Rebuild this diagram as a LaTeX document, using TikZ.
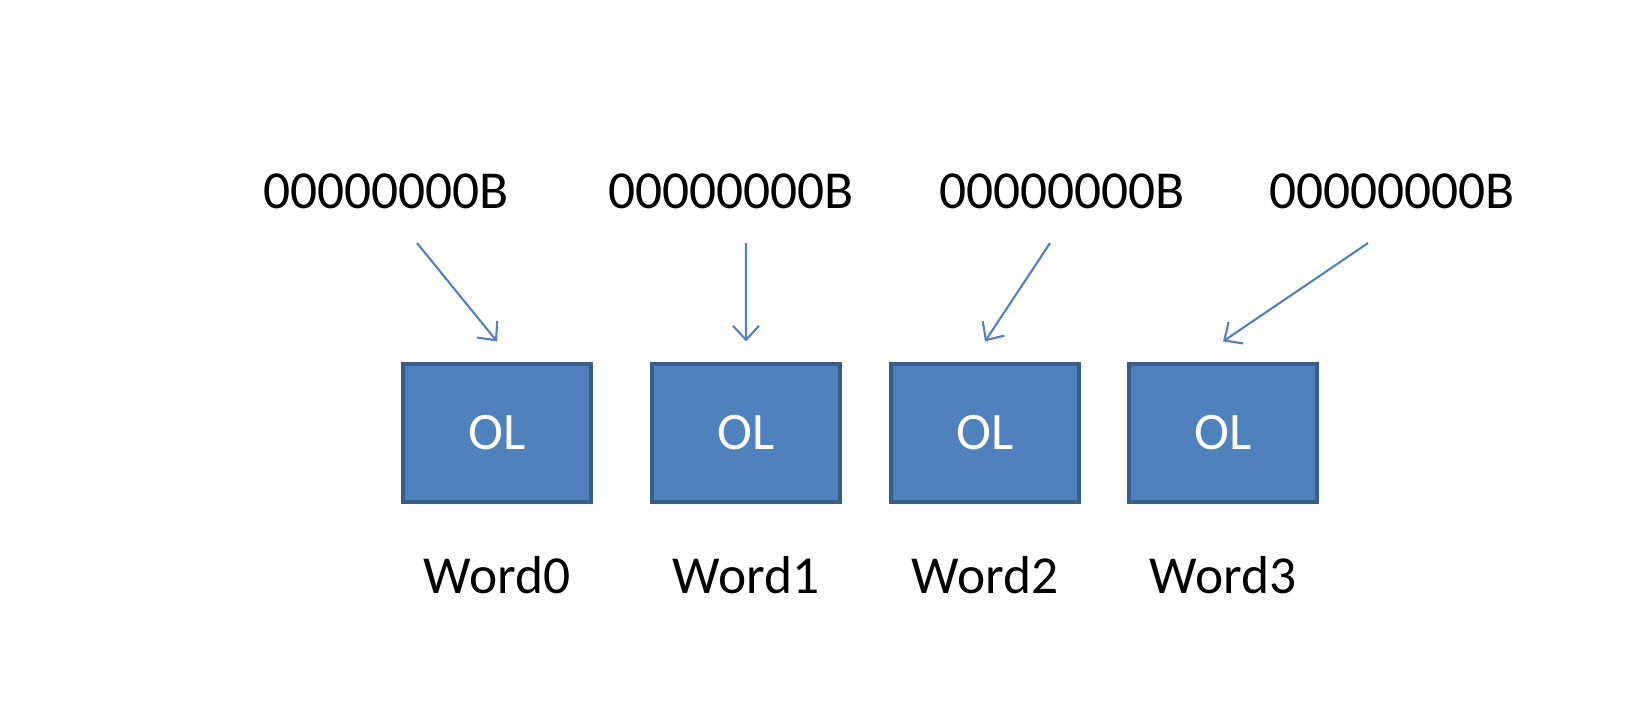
\documentclass[tikz,border=0pt]{standalone}
\usepackage{fontspec}
\setmainfont{Carlito}
\usepackage{tikz}
\usetikzlibrary{positioning,arrows,arrows.meta,calc}
\definecolor{olfill}{RGB}{79,129,189}
\definecolor{oledge}{RGB}{56,93,138}
\definecolor{arrowblue}{RGB}{84,128,190}
\tikzset{
    block/.style = {
        draw=oledge,
        fill=olfill,
        shape=rectangle,
        minimum height=1.38cm,
        minimum width=1.88cm,
        line width=0.9pt,
        text=white,
        font=\fontsize{15}{18}\selectfont
    },
    empty/.style = {
        shape=rectangle,
        inner sep=0pt,
        anchor=base,
        font=\fontsize{15.2}{18}\selectfont
    },
    pointer/.style = {
        draw=arrowblue,
        line width=0.6pt,
        ->
    },
    >={Straight Barb[length=1.4mm,width=2.6mm]},
}
\begin{document}
\begin{tikzpicture}
            \useasboundingbox (0,0) rectangle (16.38,7.24);

            \node[empty] (bit0) at (3.86,5.16) {00000000B};
            \node[empty] (bit1) at (7.31,5.16) {00000000B};
            \node[empty] (bit2) at (10.62,5.16) {00000000B};
            \node[empty] (bit3) at (13.92,5.16) {00000000B};

            \node[block] (ol0) at (4.97,2.91) {OL};
            \node[block] (ol1) at (7.46,2.91) {OL};
            \node[block] (ol2) at (9.85,2.91) {OL};
            \node[block] (ol3) at (12.23,2.91) {OL};

            \node[empty] (word0) at (4.97,1.31) {Word0};
            \node[empty] (word1) at (7.46,1.31) {Word1};
            \node[empty] (word2) at (9.85,1.31) {Word2};
            \node[empty] (word3) at (12.23,1.31) {Word3};

            \path[pointer] ($(bit0.south)+(0.31,-0.34)$) -- ($(ol0.north)+(0,0.21)$);
            \path[pointer] ($(bit1.south)+(0.15,-0.34)$) -- ($(ol1.north)+(0,0.21)$);
            \path[pointer] ($(bit2.south)+(-0.12,-0.34)$) -- ($(ol2.north)+(0,0.21)$);
            \path[pointer] ($(bit3.south)+(-0.24,-0.34)$) -- ($(ol3.north)+(0,0.21)$);
        \end{tikzpicture}
\end{document}
